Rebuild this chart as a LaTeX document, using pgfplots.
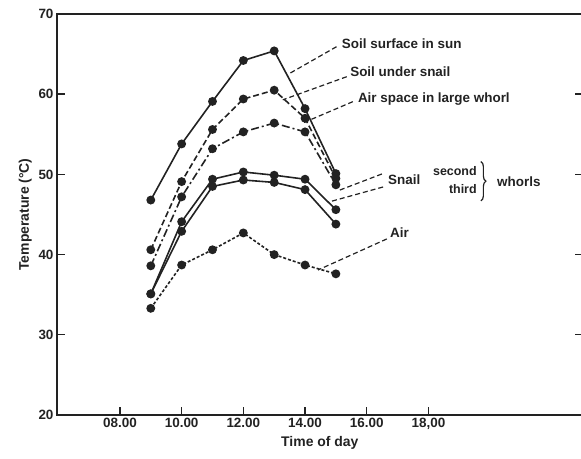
\documentclass[border=0pt]{standalone}
\usepackage{fontspec}
\setmainfont{Liberation Sans}
\usepackage{pgfplots}
\pgfplotsset{compat=1.18}
\usetikzlibrary{calc,decorations.pathreplacing}

\definecolor{ink}{HTML}{222222}

\begin{document}
\begin{tikzpicture}
\begin{axis}[
  scale only axis,
  width=525.7bp, height=401bp,
  xmin=5.96, xmax=23, ymin=20, ymax=70,
  xtick={8,10,12,14,16,18},
  xticklabels={08.00,10.00,12.00,14.00,16.00,{18,00}},
  ytick={20,30,40,50,60,70},
  xtick pos=bottom,
  ytick pos=both,
  yticklabel pos=left,
  tick align=inside,
  major tick length=8bp,
  axis line style={line width=1.9bp, ink},
  tick style={line width=1.4bp, ink},
  /pgf/number format/assume math mode=true,
  ticklabel style={font=\fontsize{13.5}{15}\selectfont\bfseries, text=ink},
  xlabel={Time of day},
  ylabel={Temperature (°C)},
  label style={font=\fontsize{14}{16}\selectfont\bfseries, text=ink},
  every axis plot/.append style={line width=1.6bp, ink, mark=*, mark size=3.6bp,
    mark options={solid, fill=ink}},
]
% soil surface in sun
\addplot[solid] coordinates {(9,46.8) (10,53.8) (11,59.1) (12,64.2) (13,65.4) (14,58.2) (15,50.1)};
% soil under snail
\addplot[dash pattern=on 6bp off 3bp] coordinates {(9,40.6) (10,49.1) (11,55.6) (12,59.4) (13,60.5) (14,57.0) (15,49.5)};
% air space in large whorl
\addplot[dash pattern=on 8bp off 3bp on 2bp off 3bp] coordinates {(9,38.6) (10,47.2) (11,53.2) (12,55.3) (13,56.4) (14,55.3) (15,48.7)};
% snail, second whorl
\addplot[solid] coordinates {(9,35.1) (10,44.1) (11,49.4) (12,50.3) (13,49.9) (14,49.4) (15,45.6)};
% snail, third whorl
\addplot[solid] coordinates {(9,35.1) (10,42.9) (11,48.5) (12,49.3) (13,49.0) (14,48.1) (15,43.8)};
% air
\addplot[dash pattern=on 3bp off 2bp] coordinates {(9,33.3) (10,38.7) (11,40.6) (12,42.7) (13,40.0) (14,38.7) (15,37.6)};

% labels and leaders
\tikzset{lab/.style={anchor=west, inner sep=0pt, text=ink,
    font=\fontsize{13.5}{15}\selectfont\bfseries},
  lead/.style={ink, line width=1.2bp, dash pattern=on 5bp off 3bp}}
\node[lab] at (axis cs:15.19,66.35) {Soil surface in sun};
\draw[lead] (axis cs:15.02,65.92) -- (axis cs:13.51,62.61);
\node[lab] at (axis cs:15.46,62.81) {Soil under snail};
\draw[lead] (axis cs:15.35,62.18) -- (axis cs:13.28,59.30);
\node[lab] at (axis cs:15.71,59.40) {Air space in large whorl};
\draw[lead] (axis cs:15.55,59.07) -- (axis cs:13.93,56.41);

\node[lab] at (axis cs:16.69,49.30) {Snail};
\node[lab, anchor=east, font=\fontsize{12.5}{14}\selectfont\bfseries] at (axis cs:19.57,50.46) {second};
\node[lab, anchor=east, font=\fontsize{12.5}{14}\selectfont\bfseries] at (axis cs:19.57,48.18) {third};
\draw[ink, line width=1.2bp, decorate, decoration={brace, amplitude=5bp}]
  (axis cs:19.70,51.6) -- (axis cs:19.70,46.7);
\node[lab] at (axis cs:20.22,49.09) {whorls};
\draw[lead] (axis cs:16.49,50.05) -- (axis cs:15.13,48.05);
\draw[lead] (axis cs:16.53,48.43) -- (axis cs:14.81,46.60);

\node[lab] at (axis cs:16.75,42.69) {Air};
\draw[lead] (axis cs:16.65,41.95) -- (axis cs:14.42,38.08);

\coordinate (bl) at (rel axis cs:0,0);
\coordinate (tl) at (rel axis cs:0,1);
\end{axis}
\pgfresetboundingbox
\path[use as bounding box] ($(bl)+(-57bp,-44bp)$) rectangle ($(tl)+(524bp,14bp)$);
\end{tikzpicture}
\end{document}
